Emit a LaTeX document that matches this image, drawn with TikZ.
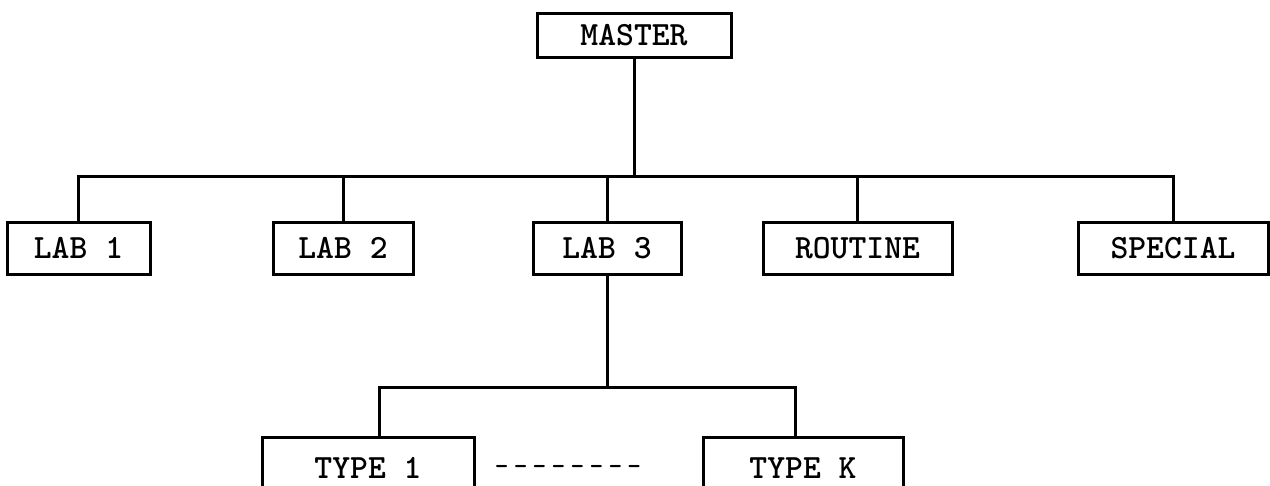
\documentclass[tikz,border=0pt]{standalone}
\begin{document}
\begin{tikzpicture}[x=1pt,y=-1pt,
  box/.style={draw,line width=3pt,minimum height=52pt,inner sep=0pt,
    font=\fontsize{34}{40}\selectfont\ttfamily\bfseries},
  lbl/.style={font=\fontsize{26}{30}\selectfont\ttfamily\bfseries,inner sep=0pt},
  conn/.style={line width=3pt}]
\useasboundingbox (0,0) rectangle (1270,485);
\clip (0,0) rectangle (1270,485);
\coordinate (bus) at (0,176);
\coordinate (tbus) at (0,387);
\node[box,minimum width=194pt,minimum height=44pt] (master) at (634,35) {MASTER};
\node[box,minimum width=143pt] (lab1) at (78.5,248) {LAB 1};
\node[box,minimum width=140pt] (lab2) at (343,248) {LAB 2};
\node[box,minimum width=148pt] (lab3) at (607,248) {LAB 3};
\node[box,minimum width=189pt] (routine) at (857.5,248) {ROUTINE};
\node[box,minimum width=190pt] (special) at (1173,248) {SPECIAL};
\node[box,minimum width=212pt,minimum height=62pt] (t1) at (368,468) {TYPE 1};
\node[box,minimum width=200pt,minimum height=62pt] (tk) at (803,468) {TYPE K};
\node[lbl] (dots) at (568,470) {-\kern5.3pt-\kern5.3pt-\kern5.3pt-\kern5.3pt-\kern5.3pt-\kern5.3pt-\kern5.3pt-};
\draw[conn] (master.south) -- (master.south |- bus);
\draw[conn] (lab1.north) -- (lab1.north |- bus) -- (special.north |- bus) -- (special.north);
\draw[conn] (lab2.north) -- (lab2.north |- bus);
\draw[conn] (lab3.north) -- (lab3.north |- bus);
\draw[conn] (routine.north) -- (routine.north |- bus);
\draw[conn] (lab3.south) -- (lab3.south |- tbus);
\draw[conn] ([xshift=11pt]t1.north) -- ([xshift=11pt]t1.north |- tbus) -- ([xshift=-8pt]tk.north |- tbus) -- ([xshift=-8pt]tk.north);
\end{tikzpicture}
\end{document}
